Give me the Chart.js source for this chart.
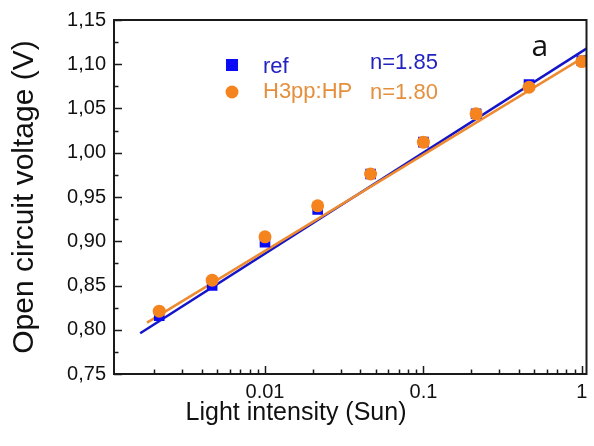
<!DOCTYPE html>
<html><head><meta charset="utf-8">
<script src="https://cdn.jsdelivr.net/npm/chart.js@4.4.0/dist/chart.umd.min.js"></script>
<style>html,body{margin:0;padding:0;background:#fff}#wrap{width:594px;height:446px}</style>
</head><body><div id="wrap"><canvas id="c" width="594" height="446"></canvas></div>
<script>
// ---- data ----
const intensity = [0.00215, 0.00464, 0.01, 0.0215, 0.0464, 0.1, 0.215, 0.464, 1];
const vocRef = [0.816, 0.850, 0.899, 0.936, 0.976, 1.012, 1.044, 1.077, 1.104];
const vocH3  = [0.821, 0.856, 0.905, 0.940, 0.976, 1.012, 1.044, 1.074, 1.103];
const fitRefX = [0.00163, 1.075];
const fitRefY = [0.796, 1.118];
const fitH3X = [0.0018, 1.075];
const fitH3Y = [0.808, 1.110];
const seriesNames = ['ref', 'H3pp:HP'];
const idealityLabels = ['n=1.85', 'n=1.80'];
const panelLabel = 'a';
const xMajorTicks = [0.01, 0.1, 1];
const xTickLabels = ['0,01', '0,1', '1'];
const xMinorTicks = [0.002,0.003,0.004,0.005,0.006,0.007,0.008,0.009,
                     0.02,0.03,0.04,0.05,0.06,0.07,0.08,0.09,
                     0.2,0.3,0.4,0.5,0.6,0.7,0.8,0.9];
const yMajorTicks = [0.75, 0.80, 0.85, 0.90, 0.95, 1.00, 1.05, 1.10, 1.15];
const yTickLabels = ['0,75','0,80','0,85','0,90','0,95','1,00','1,05','1,10','1,15'];
const yMinorTicks = [0.775, 0.825, 0.875, 0.925, 0.975, 1.025, 1.075, 1.125];
const xTitle = 'Light intensity (Sun)';
const yTitle = 'Open circuit voltage (V)';

const BLUE = '#0a0af5', BLUE_LINE = '#1414c8', BLUE_TEXT = '#2323bf';
const ORANGE = '#f5841f', ORANGE_LINE = '#ee8a30', ORANGE_TEXT = '#e58f3c';
const FONT = "'Liberation Sans', Arial, sans-serif";

const toPts = (xs, ys) => xs.map((x, i) => ({x, y: ys[i]}));

function buildTicks(major, minor) {
  const t = major.map(v => ({value: v, major: true})).concat(minor.map(v => ({value: v, major: false})));
  t.sort((a, b) => a.value - b.value);
  return t;
}
function labelFor(value, majors, labels) {
  for (let i = 0; i < majors.length; i++) if (Math.abs(majors[i] - value) < 1e-9) return labels[i];
  return '';
}

const decorPlugin = {
  id: 'decor',
  afterDatasetsDraw(chart) {
    const {ctx, chartArea: a, scales: {x, y}} = chart;
    ctx.save();
    ctx.strokeStyle = '#1a1a1a';
    ctx.lineWidth = 1.5;
    ctx.beginPath();
    x.ticks.forEach(t => {
      const px = Math.round(x.getPixelForValue(t.value)) + 0.5;
      const len = t.major ? 8 : 4.5;
      ctx.moveTo(px, a.bottom); ctx.lineTo(px, a.bottom - len);
    });
    y.ticks.forEach(t => {
      const py = Math.round(y.getPixelForValue(t.value)) + 0.5;
      const len = t.major ? 8 : 4.5;
      ctx.moveTo(a.left, py); ctx.lineTo(a.left + len, py);
    });
    ctx.stroke();
    ctx.lineWidth = 2;
    ctx.strokeRect(a.left, a.top, a.right - a.left, a.bottom - a.top);

    // legend
    const lx = a.left + 118, ly1 = a.top + 45, ly2 = a.top + 72;
    ctx.fillStyle = BLUE;
    ctx.fillRect(lx - 6, ly1 - 6, 12, 12);
    ctx.fillStyle = ORANGE;
    ctx.beginPath(); ctx.arc(lx, ly2, 6.5, 0, Math.PI * 2); ctx.fill();
    ctx.font = '22px ' + FONT;
    ctx.textBaseline = 'alphabetic';
    ctx.textAlign = 'left';
    ctx.fillStyle = BLUE_TEXT;
    ctx.fillText(seriesNames[0], lx + 31, ly1 + 7.5);
    ctx.fillText(idealityLabels[0], lx + 138, ly1 + 3.5);
    ctx.fillStyle = ORANGE_TEXT;
    ctx.fillText(seriesNames[1], lx + 31, ly2 + 5.5);
    ctx.fillText(idealityLabels[1], lx + 138, ly2 + 7);
    // panel label
    ctx.fillStyle = '#111';
    ctx.font = "30px 'Open Sans', " + FONT;
    ctx.fillText(panelLabel, a.right - 55, a.top + 36);
    ctx.restore();
  }
};

new Chart(document.getElementById('c'), {
  type: 'scatter',
  data: {
    datasets: [
      {label: seriesNames[1], data: toPts(intensity, vocH3), pointStyle: 'circle', pointRadius: 6.5,
       backgroundColor: ORANGE, borderColor: ORANGE, borderWidth: 0, order: 0},
      {label: seriesNames[0], data: toPts(intensity, vocRef), pointStyle: 'rect', pointRadius: 7.5,
       backgroundColor: BLUE, borderColor: BLUE, borderWidth: 0, order: 1},
      {label: 'fit H3', data: toPts(fitH3X, fitH3Y), showLine: true, pointRadius: 0,
       borderColor: ORANGE_LINE, borderWidth: 2.5, order: 2},
      {label: 'fit ref', data: toPts(fitRefX, fitRefY), showLine: true, pointRadius: 0,
       borderColor: BLUE_LINE, borderWidth: 2.5, order: 3}
    ]
  },
  options: {
    responsive: false,
    devicePixelRatio: 1,
    animation: false,
    layout: {padding: {left: 0, right: 2, top: 20, bottom: 0}},
    plugins: {
      legend: {display: false},
      tooltip: {enabled: false},
      title: {display: true, position: 'bottom', text: xTitle, color: '#111',
              font: {family: FONT, size: 25, weight: 'normal', lineHeight: 1.2},
              padding: {top: 0, bottom: 18}}
    },
    scales: {
      x: {
        type: 'logarithmic', min: 0.001114, max: 1.07,
        afterBuildTicks: s => { s.ticks = buildTicks(xMajorTicks, xMinorTicks); },
        afterFit: s => { s.height = 24; },
        grid: {display: false, drawTicks: false},
        border: {display: false},
        ticks: {autoSkip: false, maxRotation: 0, padding: 6, color: '#111',
                font: {family: FONT, size: 20},
                callback: v => labelFor(v, xMajorTicks, xTickLabels)}
      },
      y: {
        type: 'linear', min: 0.75, max: 1.15,
        afterBuildTicks: s => { s.ticks = buildTicks(yMajorTicks, yMinorTicks); },
        afterFit: s => { s.width = 114; },
        grid: {display: false, drawTicks: false},
        border: {display: false},
        title: {display: true, text: yTitle, color: '#111',
                font: {family: FONT, size: 30, lineHeight: 1.2}, padding: {top: 7, bottom: 0}},
        ticks: {autoSkip: false, padding: 8, color: '#111',
                font: {family: FONT, size: 20},
                callback: v => labelFor(v, yMajorTicks, yTickLabels)}
      }
    }
  },
  plugins: [decorPlugin]
});
</script></body></html>
